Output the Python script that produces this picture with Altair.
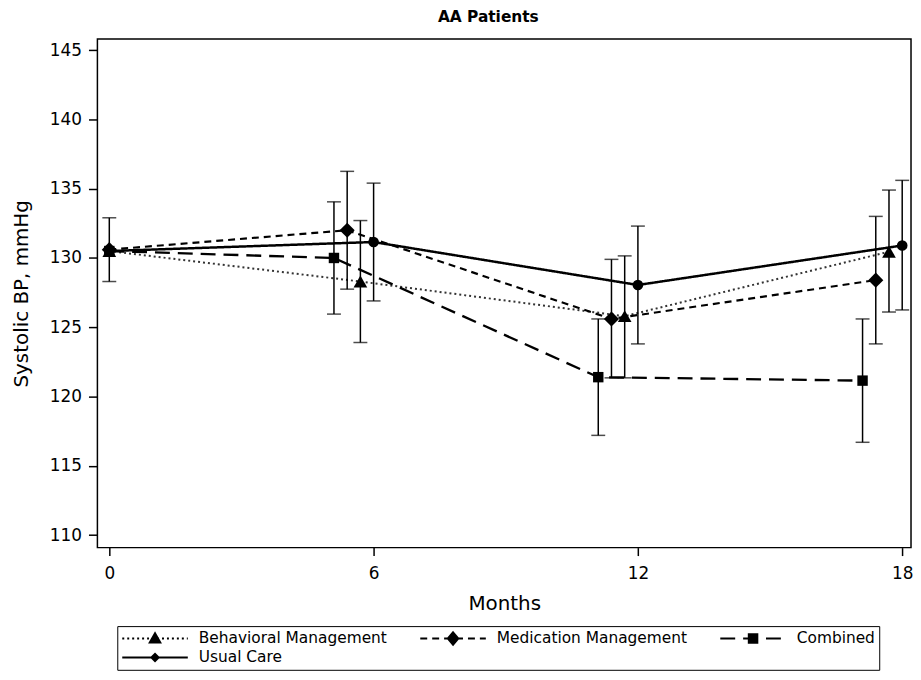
import altair as alt
import pandas as pd

# ---- data ----
series = ["Behavioral Management", "Medication Management", "Combined", "Usual Care"]
months = [0, 6, 12, 18]
dodge = [-0.3, -0.6, -0.9, 0.0]          # horizontal offset of each group (months > 0)

beh_mean = [130.5, 128.3, 125.8, 130.45]
med_mean = [130.6, 132.0, 125.6, 128.4]
com_mean = [130.5, 130.0, 121.4, 121.15]
usu_mean = [130.5, 131.15, 128.05, 130.9]

beh_lo = [None, 123.9, 121.35, 126.1]
beh_hi = [None, 132.7, 130.15, 134.9]
med_lo = [None, 127.75, 121.35, 123.8]
med_hi = [None, 136.25, 129.9, 133.0]
com_lo = [None, 125.95, 117.2, 116.7]
com_hi = [None, 134.05, 125.6, 125.6]
usu_lo = [128.3, 126.9, 123.8, 126.25]
usu_hi = [132.9, 135.4, 132.3, 135.6]

means = [beh_mean, med_mean, com_mean, usu_mean]
los = [beh_lo, med_lo, com_lo, usu_lo]
his = [beh_hi, med_hi, com_hi, usu_hi]

rows = []
for s, off, m, lo, hi in zip(series, dodge, means, los, his):
    for j, mo in enumerate(months):
        rows.append({
            "series": s,
            "x": mo + (off if mo > 0 else 0.0),
            "mean": m[j],
            "lo": lo[j],
            "hi": hi[j],
        })
df = pd.DataFrame(rows)
err = df.dropna(subset=["lo"]).copy()

FONT = "DejaVu Sans"

# marker style per series
marker_shapes = ["triangle-up", "diamond", "square", "circle"]
marker_sizes = [190, 230, 110, 115]

# ---- legend symbols: line pattern + (stroke-filled) marker, unit-space svg paths ----
UNIT = 33.0  # px per path unit (symbol width 66 px)


def line_path(dash, gap):
    if gap == 0:
        return "M-1,0H1"
    parts = []
    pos = -UNIT
    while pos < UNIT:
        end = min(pos + dash, UNIT)
        parts.append("M%.3f,0H%.3f" % (pos / UNIT, end / UNIT))
        pos = end + gap
    return "".join(parts)


def scaled(pts, k):
    return "M" + "L".join("%.3f,%.3f" % (x * k, y * k) for x, y in pts) + "Z"


def solid_marker(pts):
    return "".join(scaled(pts, k) for k in (1.0, 0.7, 0.42, 0.15))


tri_pts = [(-0.16, 0.12), (0.0, -0.16), (0.16, 0.12)]
dia_pts = [(0.0, -0.19), (0.16, 0.0), (0.0, 0.19), (-0.16, 0.0)]
sqr_pts = [(-0.13, -0.13), (0.13, -0.13), (0.13, 0.13), (-0.13, 0.13)]
cir_pts = [(-0.11, 0.0), (0.0, -0.11), (0.11, 0.0), (0.0, 0.11)]

legend_paths = [
    line_path(2, 3) + solid_marker(tri_pts),
    line_path(7, 5) + solid_marker(dia_pts),
    line_path(15, 8) + solid_marker(sqr_pts),
    line_path(0, 0) + solid_marker(cir_pts),
]

x_scale = alt.Scale(domain=[-0.27, 18.2], nice=False, zero=False)
y_scale = alt.Scale(domain=[109.1, 145.8], nice=False, zero=False)

x_axis = alt.Axis(values=months, title="Months", tickSize=8, tickWidth=1.5,
                  labelPadding=10, titlePadding=12, domain=False, grid=False)
y_axis = alt.Axis(values=list(range(110, 150, 5)), title="Systolic BP, mmHg",
                  tickSize=9, tickWidth=1.5, labelPadding=7, titlePadding=18,
                  domain=False, grid=False)

base = alt.Chart(df)

lines = base.mark_line().encode(
    x=alt.X("x:Q", scale=x_scale, axis=x_axis),
    y=alt.Y("mean:Q", scale=y_scale, axis=y_axis),
    detail="series:N",
    color=alt.Color("series:N", scale=alt.Scale(domain=series,
                    range=["#333333", "black", "black", "black"]), legend=None),
    strokeDash=alt.StrokeDash("series:N", scale=alt.Scale(domain=series,
                              range=[[2, 3], [7, 5], [15, 8], [1, 0]]), legend=None),
    strokeWidth=alt.StrokeWidth("series:N", scale=alt.Scale(domain=series,
                                range=[2, 2.5, 2.5, 2]), legend=None),
    order="x:Q",
)

bars = alt.Chart(err).mark_rule(color="black", strokeWidth=1.5).encode(
    x="x:Q", y="lo:Q", y2="hi:Q"
)

caps = alt.Chart(err).transform_fold(["lo", "hi"], as_=["end", "val"]).mark_tick(
    orient="horizontal", color="black", size=14, thickness=1.5
).encode(x="x:Q", y="val:Q")

point_layers = []
for s, shp, sz in zip(series, marker_shapes, marker_sizes):
    point_layers.append(
        base.transform_filter(alt.datum.series == s).mark_point(
            filled=True, color="black", opacity=1, shape=shp, size=sz, strokeWidth=0
        ).encode(x="x:Q", y="mean:Q")
    )

leg_df = pd.DataFrame({"series": series, "x": [0.0] * 4, "none": [None] * 4})
legend_layer = alt.Chart(leg_df).mark_point(
    filled=False, color="black", strokeWidth=2
).encode(
    x="x:Q",
    y="none:Q",
    shape=alt.Shape("series:N", scale=alt.Scale(domain=series, range=legend_paths),
                    legend=alt.Legend(
                        title=None, orient="none", legendX=20, legendY=591,
                        columns=3, direction="horizontal",
                        symbolSize=UNIT * UNIT * 4, clipHeight=17,
                        symbolStrokeColor="black", symbolFillColor="transparent",
                        symbolStrokeWidth=2, symbolOpacity=1, symbolOffset=0,
                        labelFont=FONT, labelFontSize=15.5, labelColor="black",
                        labelOffset=10, labelLimit=400,
                        columnPadding=32, rowPadding=2, padding=4,
                        strokeColor="black",
                    )),
)

chart = alt.layer(lines, bars, caps, *point_layers, legend_layer).resolve_scale(
    shape="independent"
).properties(
    width=819,
    height=512,
    padding={"left": 90, "top": 29, "right": 2, "bottom": 123},
    autosize=alt.AutoSizeParams(type="none"),
    title=alt.TitleParams("AA Patients", font=FONT, fontSize=15.5, fontWeight="bold",
                          color="black", offset=14, dx=-16),
).configure_view(
    stroke="black", strokeWidth=1.5
).configure_axis(
    labelFont=FONT, labelFontSize=17, labelColor="black",
    titleFont=FONT, titleFontSize=20, titleFontWeight="normal", titleColor="black",
    tickColor="black",
)

chart.save("out.html", embed_options={"renderer": "svg", "actions": False})
